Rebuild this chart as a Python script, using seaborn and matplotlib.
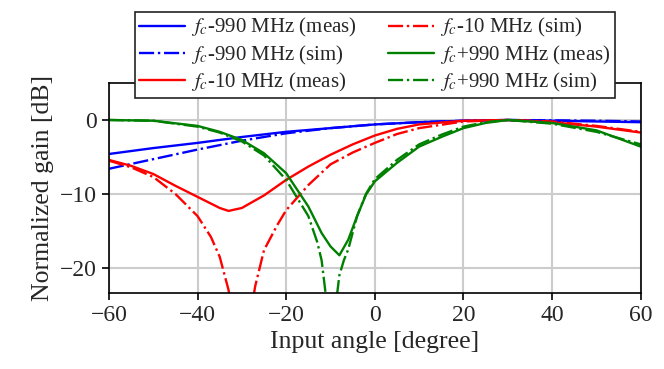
import numpy as np
import pandas as pd
import matplotlib
matplotlib.use("Agg")
import matplotlib.pyplot as plt
import seaborn as sns

# angles [deg] and normalized gain [dB]
ang_lo_meas = [-60, -50, -40, -30, -20, -10, 0, 10, 20, 30, 40, 50, 60]
gain_lo_meas = [-4.6, -3.8, -3.1, -2.3, -1.6, -1.1, -0.6, -0.3, -0.1, 0.0, -0.1, -0.2, -0.3]
ang_lo_sim = [-60, -50, -40, -30, -20, -10, 0, 10, 20, 30, 40, 50, 60]
gain_lo_sim = [-6.6, -5.3, -4.0, -2.8, -1.8, -1.1, -0.6, -0.3, -0.1, 0.0, -0.05, -0.1, -0.2]

ang_mid_meas = [-60, -55, -50, -45, -40, -35, -33, -30, -25, -20, -15, -10, -5, 0, 5, 10, 20, 30, 40, 50, 60]
gain_mid_meas = [-5.4, -6.2, -7.3, -8.9, -10.4, -11.9, -12.3, -11.9, -10.2, -8.1, -6.3, -4.7, -3.3, -2.1, -1.2, -0.6, -0.1, 0.0, -0.3, -0.9, -1.7]
ang_mid_sim = [-60, -55, -50, -45, -40, -37, -35, -33, -31, -30, -29, -27, -25, -22, -20, -15, -10, -5, 0, 5, 10, 20, 30, 40, 50, 60]
gain_mid_sim = [-5.5, -6.4, -7.7, -10.0, -13.0, -15.8, -18.5, -23.0, -30.0, -40.0, -30.0, -22.5, -17.6, -14.2, -12.2, -8.8, -6.0, -4.4, -3.1, -1.9, -1.1, -0.2, 0.0, -0.2, -0.8, -1.6]

ang_hi_meas = [-60, -50, -40, -35, -30, -25, -20, -15, -12, -10, -8, -6, -4, -2, 0, 5, 10, 15, 20, 25, 30, 40, 50, 60]
gain_hi_meas = [0.0, -0.1, -0.8, -1.6, -2.7, -4.5, -7.2, -11.7, -15.3, -17.1, -18.3, -16.2, -13.0, -10.1, -8.3, -5.8, -3.6, -2.3, -1.1, -0.4, 0.0, -0.4, -1.4, -3.6]
ang_hi_sim = [-60, -50, -40, -35, -30, -25, -20, -15, -13, -12, -11, -10, -9, -8, -7, -6, -4, -2, 0, 5, 10, 15, 20, 25, 30, 40, 50, 60]
gain_hi_sim = [0.0, -0.1, -0.9, -1.7, -2.9, -4.8, -8.1, -13.0, -16.5, -19.0, -24.0, -40.0, -26.0, -21.0, -19.0, -17.5, -13.0, -10.0, -8.0, -5.4, -3.3, -2.0, -0.9, -0.3, 0.0, -0.5, -1.6, -3.3]

labels = [r"$f_c$-990 MHz (meas)", r"$f_c$-990 MHz (sim)", r"$f_c$-10 MHz (meas)",
          r"$f_c$-10 MHz (sim)", r"$f_c$+990 MHz (meas)", r"$f_c$+990 MHz (sim)"]

sns.set_style("whitegrid", {"axes.edgecolor": "black", "grid.color": "#cccccc",
                            "xtick.bottom": True, "ytick.left": True})
plt.rcParams["font.family"] = ["Liberation Serif", "DejaVu Serif"]
plt.rcParams["mathtext.fontset"] = "stix"

series = [
    (ang_lo_meas, gain_lo_meas, "blue", "-"),
    (ang_lo_sim, gain_lo_sim, "blue", "-."),
    (ang_mid_meas, gain_mid_meas, "red", "-"),
    (ang_mid_sim, gain_mid_sim, "red", "-."),
    (ang_hi_meas, gain_hi_meas, "green", "-"),
    (ang_hi_sim, gain_hi_sim, "green", "-."),
]

fig = plt.figure(figsize=(6.64, 3.69), dpi=100)
ax = fig.add_axes([0.164, 0.206, 0.801, 0.569])

for (x, y, c, ls), lab in zip(series, labels):
    df = pd.DataFrame({"angle": x, "gain": y})
    sns.lineplot(data=df, x="angle", y="gain", ax=ax, color=c, linestyle=ls,
                 linewidth=1.7, label=lab, sort=False)

ax.set_xlim(-60, 60)
ax.set_ylim(-23.4, 5)
ax.set_xticks([-60, -40, -20, 0, 20, 40, 60])
ax.set_yticks([-20, -10, 0])
ax.grid(True, linewidth=1.5)
ax.tick_params(labelsize=17, length=5, width=1.2, color="black", pad=4)
for s in ax.spines.values():
    s.set_linewidth(1.2)
ax.set_xlabel("Input angle [degree]", fontsize=18.5, labelpad=3)
ax.set_ylabel("Normalized gain [dB]", fontsize=18.5, labelpad=4)

leg = ax.legend(loc="lower left", bbox_to_anchor=(0.049, 0.929), ncol=2,
                fontsize=15, frameon=True, fancybox=False, edgecolor="#222222",
                borderaxespad=0, handlelength=2.2, handletextpad=0.3,
                columnspacing=1.5, labelspacing=0.2, borderpad=0.2,
                framealpha=1)
leg.get_frame().set_linewidth(1.2)

fig.savefig("out.png", dpi=100)
